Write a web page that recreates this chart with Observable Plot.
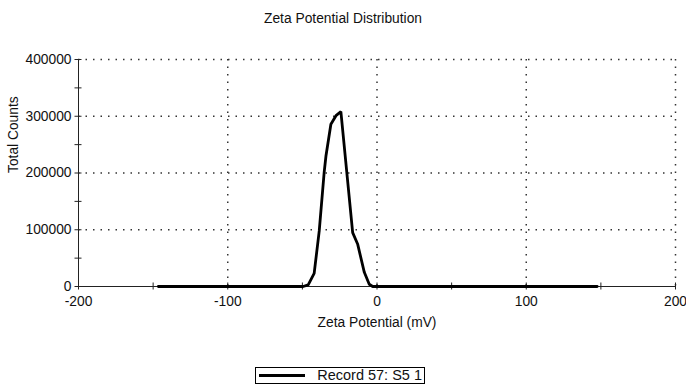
<!DOCTYPE html>
<html><head><meta charset="utf-8">
<script src="https://cdn.jsdelivr.net/npm/d3@7"></script>
<script src="https://cdn.jsdelivr.net/npm/@observablehq/plot@0.6"></script>
<style>
body{margin:0;background:#fff;font-family:"Liberation Sans",Arial,sans-serif;}
#wrap{position:relative;width:686px;height:387px;overflow:hidden;}
#title{position:absolute;left:0;width:686px;top:11px;text-align:center;font-size:13.8px;color:#111;}
#legend{position:absolute;left:255px;top:367px;width:170px;height:17px;border:1px solid #000;box-sizing:border-box;font-size:14.5px;color:#111;}
#legend .sw{position:absolute;left:3px;top:6px;width:46px;border-top:3px solid #000;}
#legend .lb{position:absolute;right:2px;top:0px;line-height:15px;}
</style></head><body>
<div id="wrap"><div id="chart"></div>
<div id="title">Zeta Potential Distribution</div>
<div id="legend"><div class="sw"></div><div class="lb">Record 57: S5 1</div></div>
</div>
<script>
const zeta = [-146.5, -49.5, -46.1, -42.1, -38.7, -35.4, -34.2, -30.9, -27.5, -24.2, -16.3, -13.0, -8.5, -5.2, -2.9, 147.5];
const counts = [0, 0, 3000, 23000, 98000, 201000, 230000, 286000, 301000, 308000, 95000, 75000, 25000, 4000, 0, 0];
const xTickLabels = [-200, -100, 0, 100, 200];
const xTickMarks = [-200, -150, -100, -50, 0, 50, 100, 150, 200];
const yTickLabels = [0, 100000, 200000, 300000, 400000];
const yTickMarks = [0, 50000, 100000, 150000, 200000, 250000, 300000, 350000, 400000];
const xGrid = [-100, 0, 100, 200];
const yGrid = [100000, 200000, 300000, 400000];
const series = zeta.map((z, i) => ({z, c: counts[i]}));

const chart = Plot.plot({
  width: 686, height: 387,
  marginLeft: 78, marginRight: 11, marginTop: 59, marginBottom: 101,
  style: {fontFamily: '"Liberation Sans", Arial, sans-serif', fontSize: "13.8px", color: "#111", background: "#fff"},
  x: {domain: [-200, 200]},
  y: {domain: [0, 400000]},
  marks: [
    Plot.ruleX(xGrid, {stroke: "#333", strokeWidth: 1.5, strokeDasharray: "1.5,6"}),
    Plot.ruleY(yGrid, {stroke: "#333", strokeWidth: 1.5, strokeDasharray: "1.5,6"}),
    Plot.ruleX([-200], {stroke: "#222", strokeWidth: 1}),
    Plot.ruleY([0], {stroke: "#222", strokeWidth: 1}),
    Plot.axisX({ticks: xTickMarks, tickSize: 7, dy: -3.5, text: null, label: null, stroke: "#222"}),
    Plot.axisY({ticks: yTickMarks, tickSize: 7, dx: 3.5, text: null, label: null, stroke: "#222"}),
    Plot.axisX({ticks: xTickLabels, tickSize: 0, tickPadding: 10, tickFormat: d => String(d), label: null}),
    Plot.axisY({ticks: yTickLabels, tickSize: 0, tickPadding: 7, tickFormat: d => String(d), label: null}),
    Plot.line(series, {x: "z", y: "c", stroke: "#000", strokeWidth: 2.8, strokeLinejoin: "miter"}),
    Plot.text(["Total Counts"], {frameAnchor: "left", dx: -65, rotate: -90, fontSize: 13.8}),
    Plot.text(["Zeta Potential (mV)"], {frameAnchor: "bottom", dy: 40, fontSize: 13.8})
  ]
});
document.getElementById("chart").appendChild(chart);
</script>
</body></html>
